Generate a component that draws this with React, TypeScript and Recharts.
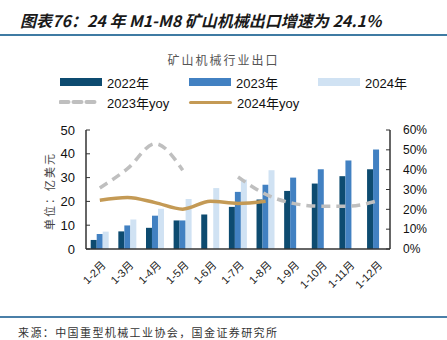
import React from "react";
import {
  ComposedChart,
  Bar,
  Line,
  XAxis,
  YAxis,
} from "recharts";

const months = ["1-2月", "1-3月", "1-4月", "1-5月", "1-6月", "1-7月", "1-8月", "1-9月", "1-10月", "1-11月", "1-12月"];
const export2022 = [3.8, 7.4, 8.9, 12.0, 14.5, 17.7, 20.8, 24.4, 27.5, 30.6, 33.5];
const export2023 = [6.3, 9.9, 14.0, 12.0, null, 24.0, 27.0, 30.0, 33.5, 37.2, 41.8];
const export2024 = [7.3, 12.4, 16.9, 21.0, 25.6, 29.2, 33.1, null, null, null, null];
const yoy2023 = [30.8, 40.5, 53.1, 39.7, null, 36.3, 27.6, 23.0, 21.6, 21.6, 24.1];
const yoy2024 = [24.6, 26.0, 23.4, 20.1, 24.1, 23.0, 24.1, null, null, null, null];

const leftTicks = [0, 10, 20, 30, 40, 50];
const rightTicks = [0, 10, 20, 30, 40, 50, 60];
const bandTicks = months.map((_, i) => i).concat([months.length]);

const C2022 = "#0d4b70";
const C2023 = "#4281c2";
const C2024 = "#d0e2f3";
const CYOY23 = "#bfbfbf";
const CYOY24 = "#c49a55";

const data = months.map((m, i) => ({
  month: m,
  v2022: export2022[i],
  v2023: export2023[i],
  v2024: export2024[i],
  y2023: yoy2023[i],
  y2024: yoy2024[i],
}));

const SANS = '"Liberation Sans", Arial, "Noto Sans CJK SC", sans-serif';
const CJK = '"Noto Sans CJK SC", sans-serif';

const MonthTick = ({ x, y, payload }: any) => (
  <g transform={`translate(${x + 4},${y + 6})`}>
    <text
      textAnchor="end"
      transform="rotate(-45)"
      fontSize={11}
      fontFamily={SANS}
      fill="#222"
      dy={4}
    >
      {payload.value}
    </text>
  </g>
);

const LegendItem = ({ kind, color, label, x, y }: any) => (
  <div style={{ position: "absolute", left: x, top: y - 9, height: 18, display: "flex", alignItems: "center" }}>
    {kind === "bar" && <div style={{ width: 42, height: 8, background: color }} />}
    {kind === "line" && <div style={{ width: 43, height: 3, borderRadius: 2, background: color }} />}
    {kind === "dash" && (
      <svg width={42} height={6}>
        <line x1={1.5} y1={3} x2={40} y2={3} stroke={color} strokeWidth={4} strokeDasharray="8 5" strokeLinecap="round" />
      </svg>
    )}
    <span style={{ marginLeft: kind === "dash" ? 6 : 5, fontSize: 13, fontFamily: SANS, color: "#111", whiteSpace: "nowrap" }}>
      {label}
    </span>
  </div>
);

export default function App() {
  return (
    <div style={{ position: "absolute", left: 0, top: 0, width: 447, height: 340, background: "#fff", overflow: "hidden" }}>
      <div
        style={{
          position: "absolute",
          left: 20,
          top: 9,
          fontSize: 16,
          fontWeight: 700,
          fontStyle: "italic",
          fontFamily: CJK,
          color: "#1a1a1a",
          whiteSpace: "nowrap",
          lineHeight: "22px",
        }}
      >
        图表76：24 年 M1-M8 矿山机械出口增速为 24.1%
      </div>
      <div style={{ position: "absolute", left: 0, top: 34, width: 447, height: 2, background: "#3f7ba3" }} />

      <div
        style={{
          position: "absolute",
          left: 0,
          width: 447,
          top: 51,
          textAlign: "center",
          fontSize: 12,
          letterSpacing: 2,
          fontFamily: CJK,
          color: "#555",
          lineHeight: "18px",
        }}
      >
        矿山机械行业出口
      </div>

      <LegendItem kind="bar" color={C2022} label="2022年" x={60} y={82} />
      <LegendItem kind="bar" color={C2023} label="2023年" x={189} y={82} />
      <LegendItem kind="bar" color={C2024} label="2024年" x={318} y={82} />
      <LegendItem kind="dash" color={CYOY23} label="2023年yoy" x={59} y={102} />
      <LegendItem kind="line" color={CYOY24} label="2024年yoy" x={189} y={102} />

      <div
        style={{
          position: "absolute",
          left: 49 - 45,
          top: 191 - 9,
          width: 90,
          height: 18,
          lineHeight: "18px",
          textAlign: "center",
          transform: "rotate(-90deg)",
          fontSize: 11,
          letterSpacing: 2,
          fontFamily: CJK,
          color: "#444",
        }}
      >
        单位：亿美元
      </div>

      <div style={{ position: "absolute", left: 0, top: 0 }}>
        <ComposedChart
          width={447}
          height={340}
          data={data}
          margin={{ top: 130, right: 17, bottom: 31, left: 56 }}
          barCategoryGap="17%"
          barGap={0}
        >
          <XAxis
            dataKey="month"
            xAxisId="cat"
            interval={0}
            height={60}
            tick={<MonthTick />}
            tickLine={false}
            axisLine={{ stroke: "#333", strokeWidth: 1.5 }}
          />
          <XAxis
            xAxisId="band"
            type="number"
            domain={[0, months.length]}
            ticks={bandTicks}
            interval={0}
            height={0}
            mirror
            tickSize={3}
            tick={() => <g />}
            tickLine={{ stroke: "#333" }}
            axisLine={false}
          />
          <YAxis
            yAxisId="left"
            width={30}
            domain={[0, 50]}
            ticks={leftTicks}
            interval={0}
            tickSize={-4}
            tickMargin={15}
            tick={{ fontSize: 13, fill: "#111", fontFamily: SANS }}
            tickLine={{ stroke: "#333" }}
            axisLine={{ stroke: "#333", strokeWidth: 1.5 }}
          />
          <YAxis
            yAxisId="right"
            orientation="right"
            width={40}
            domain={[0, 60]}
            ticks={rightTicks}
            interval={0}
            tickFormatter={(v: number) => `${v}%`}
            tickSize={-4}
            tickMargin={17}
            tick={{ fontSize: 12, fill: "#111", fontFamily: SANS }}
            tickLine={{ stroke: "#333" }}
            axisLine={{ stroke: "#333", strokeWidth: 1.5 }}
          />
          <Bar xAxisId="cat" yAxisId="left" dataKey="v2022" fill={C2022} isAnimationActive={false} />
          <Bar xAxisId="cat" yAxisId="left" dataKey="v2023" fill={C2023} isAnimationActive={false} />
          <Bar xAxisId="cat" yAxisId="left" dataKey="v2024" fill={C2024} isAnimationActive={false} />
          <Line
            xAxisId="cat"
            yAxisId="right"
            type="monotone"
            dataKey="y2023"
            stroke={CYOY23}
            strokeWidth={3.5}
            strokeDasharray="9 6"
            dot={false}
            connectNulls={false}
            isAnimationActive={false}
          />
          <Line
            xAxisId="cat"
            yAxisId="right"
            type="monotone"
            dataKey="y2024"
            stroke={CYOY24}
            strokeWidth={3.5}
            dot={false}
            isAnimationActive={false}
          />
        </ComposedChart>
      </div>

      <div style={{ position: "absolute", left: 0, top: 316, width: 447, height: 2, background: "#4a7fa8" }} />
      <div
        style={{
          position: "absolute",
          left: 18,
          top: 324,
          fontSize: 11,
          letterSpacing: 1.4,
          fontFamily: CJK,
          color: "#333",
          lineHeight: "16px",
          whiteSpace: "nowrap",
        }}
      >
        来源：中国重型机械工业协会，国金证券研究所
      </div>
    </div>
  );
}
